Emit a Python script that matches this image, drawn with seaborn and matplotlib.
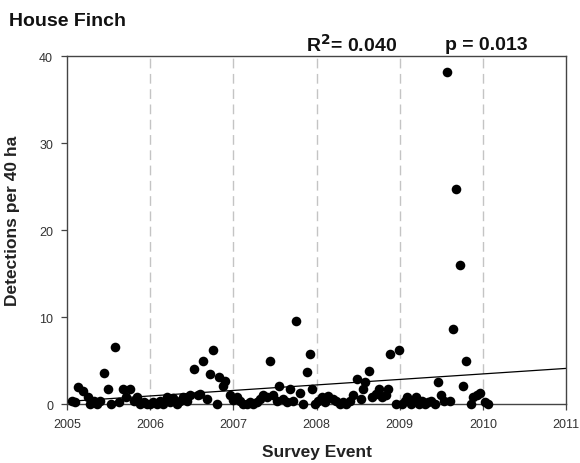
import matplotlib
matplotlib.use("Agg")
import matplotlib.pyplot as plt
import seaborn as sns
import pandas as pd

survey_year = [
    2005.06, 2005.10, 2005.13, 2005.19, 2005.25, 2005.28, 2005.32, 2005.36, 2005.40, 2005.44,
    2005.49, 2005.53, 2005.58, 2005.62, 2005.67, 2005.71, 2005.76, 2005.80, 2005.84, 2005.88,
    2005.92, 2005.96, 2006.00, 2006.04, 2006.08, 2006.12, 2006.16, 2006.20, 2006.24, 2006.28,
    2006.32, 2006.36, 2006.40, 2006.44, 2006.48, 2006.53, 2006.57, 2006.60, 2006.64, 2006.68,
    2006.72, 2006.76, 2006.80, 2006.83, 2006.88, 2006.90, 2006.96, 2007.00, 2007.04, 2007.08,
    2007.12, 2007.16, 2007.20, 2007.24, 2007.28, 2007.32, 2007.36, 2007.40, 2007.44, 2007.48,
    2007.52, 2007.55, 2007.60, 2007.64, 2007.68, 2007.72, 2007.75, 2007.80, 2007.84, 2007.88,
    2007.92, 2007.95, 2007.98, 2008.02, 2008.06, 2008.10, 2008.14, 2008.20, 2008.24, 2008.28,
    2008.32, 2008.36, 2008.40, 2008.44, 2008.49, 2008.53, 2008.56, 2008.58, 2008.63, 2008.67,
    2008.71, 2008.75, 2008.79, 2008.83, 2008.86, 2008.88, 2008.95, 2008.99, 2009.03, 2009.06,
    2009.09, 2009.13, 2009.16, 2009.19, 2009.23, 2009.27, 2009.30, 2009.34, 2009.38, 2009.42,
    2009.46, 2009.50, 2009.53, 2009.57, 2009.60, 2009.64, 2009.68, 2009.72, 2009.76, 2009.80,
    2009.86, 2009.88, 2009.93, 2009.97, 2010.03, 2010.06,
]
detections = [
    0.4, 0.2, 2.0, 1.5, 0.8, 0.0, 0.3, 0.0, 0.3, 3.6,
    1.7, 0.0, 6.6, 0.2, 1.7, 0.8, 1.7, 0.3, 0.8, 0.0,
    0.2, 0.0, 0.0, 0.2, 0.0, 0.3, 0.0, 0.8, 0.2, 0.7,
    0.0, 0.4, 0.8, 0.3, 1.0, 4.0, 1.1, 1.2, 4.9, 0.6,
    3.4, 6.2, 0.0, 3.1, 2.1, 2.7, 1.1, 0.5, 0.8, 0.3,
    0.0, 0.0, 0.2, 0.0, 0.2, 0.6, 1.0, 0.8, 5.0, 1.0,
    0.3, 2.1, 0.6, 0.2, 1.7, 0.4, 9.5, 1.3, 0.0, 3.7,
    5.7, 1.7, 0.0, 0.4, 0.8, 0.2, 0.9, 0.6, 0.3, 0.0,
    0.2, 0.0, 0.4, 1.0, 2.9, 0.6, 1.7, 2.5, 3.8, 0.8,
    1.2, 1.7, 0.8, 1.0, 1.7, 5.7, 0.0, 6.2, 0.0, 0.3,
    0.8, 0.0, 0.3, 0.8, 0.0, 0.4, 0.0, 0.2, 0.4, 0.0,
    2.5, 1.1, 0.4, 38.2, 0.4, 8.6, 24.7, 16.0, 2.1, 5.0,
    0.0, 0.8, 1.0, 1.3, 0.2, 0.0,
]
trend_year = [2005, 2011]
trend_value = [0.3, 4.1]
year_lines = [2006, 2007, 2008, 2009, 2010]
x_ticks = [2005, 2006, 2007, 2008, 2009, 2010, 2011]
y_ticks = [0, 10, 20, 30, 40]

sns.set_style("white")
plt.rcParams["font.family"] = ["Liberation Sans", "DejaVu Sans"]

df = pd.DataFrame({"year": survey_year, "det": detections})
tdf = pd.DataFrame({"year": trend_year, "val": trend_value})

fig = plt.figure(figsize=(5.8, 4.64), dpi=100)
ax = fig.add_axes([0.1155, 0.127, 0.8605, 0.750])

for yl in year_lines:
    ax.axvline(yl, color="#c4c4c4", lw=1.0, ls=(0, (7, 4)), zorder=1)

sns.lineplot(data=tdf, x="year", y="val", ax=ax, color="black", lw=0.9, zorder=2)
sns.scatterplot(data=df, x="year", y="det", ax=ax, color="black", s=48,
                edgecolor="black", linewidth=0, zorder=3, clip_on=False)

ax.set_xlim(2005, 2011)
ax.set_ylim(0, 40)
ax.set_xticks(x_ticks)
ax.set_yticks(y_ticks)
ax.set_xticklabels([str(t) for t in x_ticks], fontsize=9, color="#333333")
ax.set_yticklabels([str(t) for t in y_ticks], fontsize=9, color="#333333")
ax.tick_params(axis="y", direction="out", length=4, width=0.9, color="#444444",
               left=True, right=False, pad=6)
ax.tick_params(axis="x", direction="out", length=4, width=0.9, color="#444444",
               bottom=True, top=False, pad=6)
for s in ax.spines.values():
    s.set_color("#444444")
    s.set_linewidth(1.0)

ax.set_xlabel("Survey Event", fontsize=12.5, fontweight="bold", color="#222222", labelpad=10)
ax.set_ylabel("Detections per 40 ha", fontsize=12.5, fontweight="bold", color="#222222")
ax.yaxis.set_label_coords(-0.095, 0.53)

fig.text(9 / 580, 1 - 22 / 464, "House Finch", fontsize=14, fontweight="bold",
         ha="left", va="center", color="#111111")
fig.text(352 / 580, 1 - 45 / 464, r"R$^{\mathbf{2}}$= 0.040", fontsize=14, fontweight="bold",
         ha="center", va="center", color="#111111")
fig.text(486 / 580, 1 - 45 / 464, "p = 0.013", fontsize=14, fontweight="bold",
         ha="center", va="center", color="#111111")

fig.savefig("out.png", dpi=100)
